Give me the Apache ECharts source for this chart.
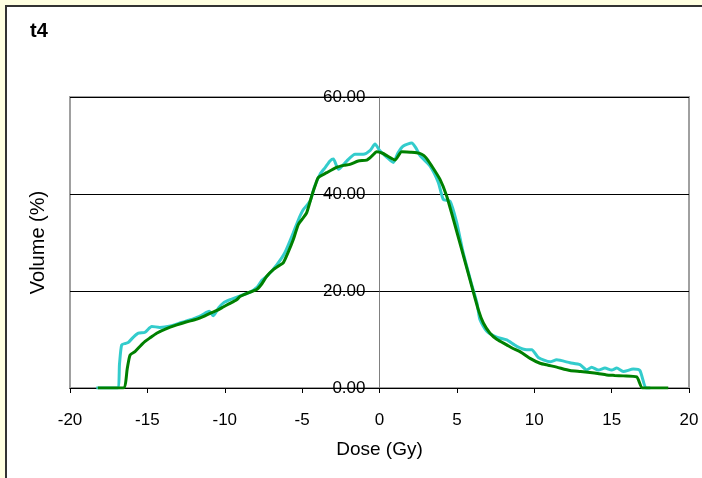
<!DOCTYPE html>
<html>
<head>
<meta charset="utf-8">
<script src="https://cdn.jsdelivr.net/npm/echarts@6/dist/echarts.min.js"></script>
<style>
  html, body { margin: 0; padding: 0; background: #FFFFE1; overflow: hidden; }
  #panel { position: absolute; left: 5px; top: 5px; width: 800px; height: 600px;
           border: 2px solid #333; background: #fff; }
  #chart { position: absolute; left: 0; top: 0; width: 702px; height: 478px; }
</style>
</head>
<body>
<div id="panel"></div>
<div id="chart"></div>
<script>
// Dose-volume profiles for structure t4
const doseA = [-18.3, -16.94, -16.8, -16.66, -16.4, -16.23, -15.9, -15.58, -15.15, -14.72, -14.2, -13.5, -12.8, -12.0, -11.5, -11.0, -10.74, -10.4, -10.1, -9.66, -9.0, -8.4, -7.9, -7.6, -7.29, -6.64, -6.1, -5.57, -5.2, -4.92, -4.49, -4.2, -3.84, -3.5, -3.2, -2.98, -2.66, -2.12, -1.58, -1.05, -0.6, -0.29, 0.03, 0.5, 0.89, 1.2, 1.54, 2.08, 2.35, 2.62, 3.26, 3.8, 4.12, 4.56, 4.99, 5.4, 5.9, 6.3, 6.49, 6.93, 7.57, 8.22, 8.87, 9.51, 9.84, 10.26, 11.02, 11.45, 12.31, 12.96, 13.39, 13.71, 14.14, 14.57, 15.0, 15.33, 15.75, 16.4, 16.83, 17.22, 17.5];
const volA  = [0, 0, 5, 8.9, 9.2, 9.4, 10.5, 11.3, 11.5, 12.7, 12.5, 12.8, 13.5, 14.3, 15.0, 15.8, 14.9, 16.5, 17.5, 18.2, 19.0, 19.7, 20.8, 22.2, 23.0, 25.4, 28.0, 32.0, 35.0, 36.8, 38.5, 41.5, 44.1, 45.5, 46.8, 47.2, 45.1, 46.8, 48.2, 48.2, 49.0, 50.3, 48.9, 47.5, 46.5, 48.5, 49.9, 50.5, 49.5, 47.9, 45.8, 42.4, 38.9, 38.5, 34.1, 28.0, 22.0, 17.5, 14.1, 11.7, 10.5, 9.9, 8.6, 7.9, 7.9, 6.3, 5.4, 5.8, 5.2, 4.8, 3.7, 4.3, 3.7, 4.1, 3.7, 4.1, 3.4, 3.9, 3.6, 0, 0];

const doseB = [-18.2, -16.55, -16.3, -16.12, -15.8, -15.5, -15.15, -14.8, -14.4, -13.8, -13.1, -12.5, -11.8, -11.4, -10.95, -10.5, -10.1, -9.7, -9.23, -9.0, -8.5, -7.94, -7.6, -7.3, -6.86, -6.5, -6.22, -5.9, -5.57, -5.25, -4.95, -4.71, -4.38, -4.15, -3.95, -3.41, -2.77, -2.3, -1.91, -1.37, -0.83, -0.5, -0.18, 0.2, 0.47, 1.0, 1.43, 2.0, 2.4, 2.73, 3.0, 3.37, 3.91, 4.34, 4.77, 5.31, 5.85, 6.39, 6.71, 7.14, 7.6, 8.22, 8.6, 9.08, 9.73, 10.37, 10.9, 11.45, 12.31, 13.0, 13.6, 14.1, 14.68, 15.2, 15.75, 16.62, 17.0, 18.66];
const volB  = [0, 0, 4, 6.8, 7.5, 8.5, 9.6, 10.4, 11.3, 12.2, 13.0, 13.6, 14.2, 14.7, 15.4, 16.0, 16.7, 17.4, 18.2, 18.9, 19.6, 20.3, 21.5, 23.0, 24.4, 25.2, 25.8, 28.0, 30.6, 33.7, 35.0, 36.1, 39.6, 41.8, 43.4, 44.4, 45.5, 45.9, 46.1, 46.8, 47.0, 47.8, 48.7, 48.4, 47.9, 47.0, 48.7, 48.6, 48.5, 48.2, 47.5, 45.8, 43.0, 39.6, 34.8, 28.6, 22.3, 16.1, 13.4, 11.3, 10.0, 8.9, 8.2, 7.5, 6.1, 5.1, 4.7, 4.3, 3.6, 3.4, 3.2, 3.0, 2.7, 2.6, 2.5, 2.3, 0, 0];

const xTicks = [-20, 20, 5];
const yTicks = [0, 60, 20];

const pairs = (xs, ys) => xs.map((x, i) => [x, ys[i]]);
const font = 'Liberation Sans, Arial, sans-serif';

// plot box in pixels; the value axis sits on dose = 0
const gridLeft = 70, gridRight = 13;
const plotWidth = 702 - gridLeft - gridRight;
const zeroOffset = plotWidth * (0 - xTicks[0]) / (xTicks[1] - xTicks[0]);

const chart = echarts.init(document.getElementById('chart'), null, { renderer: 'canvas' });
chart.setOption({
  backgroundColor: 'transparent',
  animation: false,
  title: {
    text: 't4', left: 25, top: 16,
    textStyle: { fontFamily: font, fontSize: 20, fontWeight: 'bold', color: '#000' }
  },
  grid: {
    left: gridLeft, right: gridRight, top: 97, bottom: 90,
    containLabel: false, outerBoundsMode: 'none',
    show: true, borderColor: '#a0a0a0', borderWidth: 2, backgroundColor: '#fff'
  },
  xAxis: {
    type: 'value', min: xTicks[0], max: xTicks[1], interval: xTicks[2],
    name: 'Dose (Gy)', nameLocation: 'middle', nameGap: 52,
    nameTextStyle: { fontFamily: font, fontSize: 19, color: '#000' },
    axisLine: { onZero: false, lineStyle: { color: '#000', width: 1 } },
    axisTick: { show: true, length: 5, lineStyle: { color: '#000' } },
    axisLabel: { fontFamily: font, fontSize: 17, color: '#000', margin: 24 },
    splitLine: { show: false }
  },
  yAxis: {
    type: 'value', min: yTicks[0], max: yTicks[1], interval: yTicks[2],
    position: 'left', offset: -zeroOffset,
    name: 'Volume (%)', nameLocation: 'middle', nameGap: zeroOffset + 22, nameRotate: 90,
    nameTextStyle: { fontFamily: font, fontSize: 20, color: '#000' },
    axisLine: { onZero: false, lineStyle: { color: '#808080', width: 1 } },
    axisTick: { show: true, length: 4, lineStyle: { color: '#000' } },
    axisLabel: {
      fontFamily: font, fontSize: 17, color: '#000', margin: 14,
      formatter: v => v.toFixed(2)
    },
    splitLine: { show: true, lineStyle: { color: '#000', width: 1 } }
  },
  series: [
    {
      type: 'line', data: pairs(doseA, volA), symbol: 'none', smooth: 0.2,
      lineStyle: { color: '#33CCCC', width: 3 }, z: 2
    },
    {
      type: 'line', data: pairs(doseB, volB), symbol: 'none', smooth: 0.2,
      lineStyle: { color: '#008000', width: 3 }, z: 3
    }
  ]
});
</script>
</body>
</html>
